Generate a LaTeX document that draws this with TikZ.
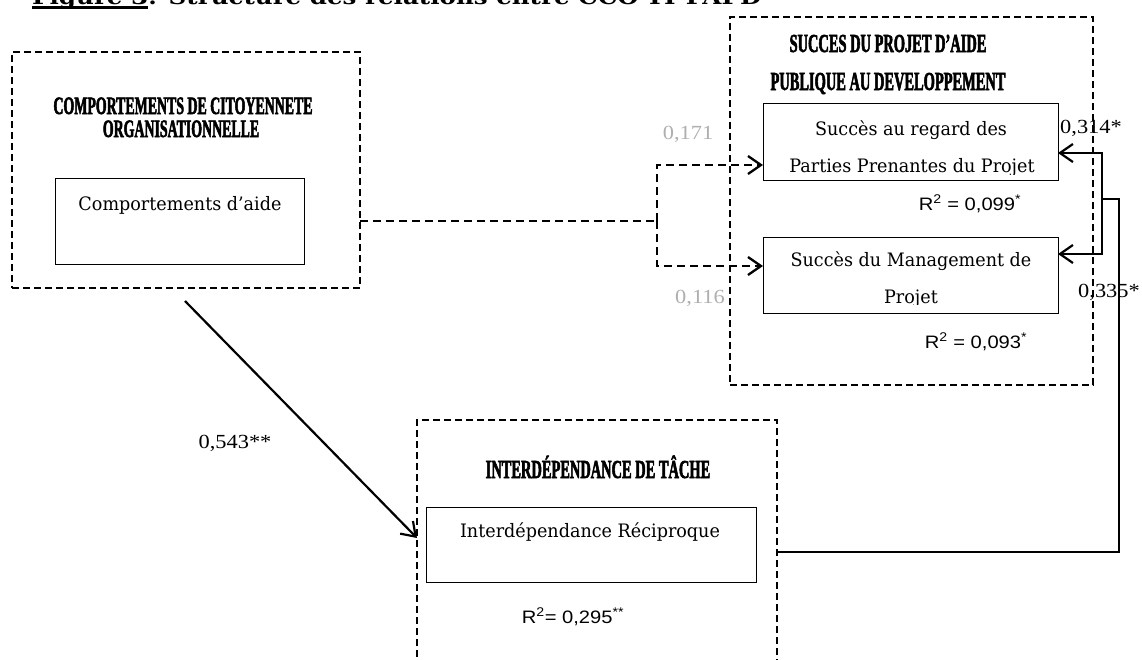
\documentclass[tikz,border=0pt]{standalone}
\usepackage{graphicx}
\usepackage{fontspec}
\setmainfont{DejaVu Serif}[FakeStretch=0.95]
\newfontfamily\timesf{Liberation Serif}[FakeStretch=1.12]
\newfontfamily\arialf{Liberation Sans}[FakeStretch=1.12]
\newfontfamily\headf{Liberation Serif}[FakeStretch=0.555, BoldFeatures={FakeBold=2}]
\newfontfamily\titlef{DejaVu Serif}
\usetikzlibrary{arrows.meta,calc}
\definecolor{numgray}{RGB}{175,175,175}
\newcommand\thickul[1]{\setbox0=\hbox{#1}\rlap{\rule[-4.5pt]{\wd0}{2.5pt}}\box0}
\begin{document}
\begin{tikzpicture}[x=1pt,y=-1pt,
 dbox/.style={draw, line width=2.6pt, dash pattern=on 7pt off 4pt, inner sep=0, outer sep=0},
 ibox/.style={draw, line width=0.9pt, inner sep=0, outer sep=0},
 body/.style={font=\fontsize{18.5}{22}\selectfont, inner sep=0, anchor=base},
 head/.style={font=\headf\bfseries\fontsize{26}{30}\selectfont, inner sep=0, anchor=base, text height=17pt, text depth=0pt},
 head2/.style={font=\headf\bfseries\fontsize{25}{29}\selectfont, inner sep=0, anchor=base, text height=16pt, text depth=0pt},
 num/.style={font=\timesf\fontsize{20}{24}\selectfont, inner sep=0, anchor=base},
 rsq/.style={font=\arialf\fontsize{18}{22}\selectfont, inner sep=0, anchor=base},
 dconn/.style={line width=2.3pt, dash pattern=on 8pt off 5pt},
 sconn/.style={line width=2.2pt},
 barb/.style={-{Straight Barb[length=13pt,width=18pt]}}]
\useasboundingbox (0,0) rectangle (1142,659);

% title
\node[font=\titlef\bfseries\fontsize{21}{25}\selectfont, anchor=base west, inner sep=0] (title) at (32,4)
  {\scalebox{1.17}[1]{\thickul{Figure 3} : Structure des relations entre CCO-TI-PAPD}};

% outer dashed boxes
\node[dbox, minimum width=348pt, minimum height=236pt] (cco) at (186,170) {};
\node[dbox, minimum width=363pt, minimum height=368pt] (sp) at (911.5,201) {};
\node[dbox, minimum width=360pt, minimum height=260pt] (ti) at (597,550) {};

% inner boxes
\node[ibox, minimum width=249pt, minimum height=86pt] (ca) at (179.5,221) {};
\node[ibox, minimum width=295pt, minimum height=77pt] (sa) at (910.5,141.5) {};
\node[ibox, minimum width=295pt, minimum height=76pt] (sm) at (910.5,275) {};
\node[ibox, minimum width=330pt, minimum height=75pt] (ir) at (591,544.5) {};

% headings
\node[head2] (h1a) at (183,114) {COMPORTEMENTS DE CITOYENNETE};
\node[head2] (h1b) at (181,137) {ORGANISATIONNELLE};
\node[head] (h2a) at (888,52) {SUCCES DU PROJET D’AIDE};
\node[head] (h2b) at (888,90) {PUBLIQUE AU DEVELOPPEMENT};
\node[head] (h3) at (598,478) {INTERDÉPENDANCE DE TÂCHE};

% box texts
\node[body] (cat) at (180,210) {Comportements d’aide};
\node[body] (irt) at (590,537) {Interdépendance Réciproque};
\node[body] (sa1) at (911,135) {Succès au regard des};
\begin{scope}
  \clip (sa.north west) rectangle ($(sa.south east)+(0,-6)$);
  \node[body] (sa2) at (912,172) {Parties Prenantes du Projet};
\end{scope}
\node[body] (sm1) at (911,266) {Succès du Management de};
\begin{scope}
  \clip (sm.north west) rectangle ($(sm.south east)+(0,-9)$);
  \node[body] (sm2) at (911,303) {Projet};
\end{scope}

% R squared
\node[rsq] (r1) at (970,210) {R\textsuperscript{2} = 0,099\textsuperscript{*}};
\node[rsq] (r2) at (976,348) {R\textsuperscript{2} = 0,093\textsuperscript{*}};
\node[rsq] (r3) at (573,623) {R\textsuperscript{2}= 0,295\textsuperscript{**}};

% coefficients
\node[num, text=numgray] (n1) at (688,139) {0,171};
\node[num, text=numgray] (n2) at (700,303) {0,116};
\node[num] (n3) at (1091,133) {0,314*};
\node[num] (n4) at (1109,297) {0,335*};
\node[num] (n5) at (235,448) {0,543**};

% dashed connectors
\coordinate (j1) at (657,221);
\draw[dconn] (cco.east |- ca.center) -- (j1);
\draw[dconn, barb] (j1) |- (sa.west |- 0,165);
\draw[dconn, barb] (j1) |- (sm.west |- 0,266);

% solid connectors
\coordinate (k1) at (1119,552);
\coordinate (k2) at (1119,199);
\coordinate (k3) at (1102,199);
\draw[line width=1.8pt] (ti.east |- k1) -- (k1) -- (k2) -- (k3);
\draw[sconn, barb] (k3) |- (sa.east |- 0,153);
\draw[sconn, barb] (k3) |- (sm.east |- 0,254);
\coordinate (a0) at (185,301);
\draw[sconn, barb] (a0) -- (ti.west |- 0,538);
\end{tikzpicture}
\end{document}
